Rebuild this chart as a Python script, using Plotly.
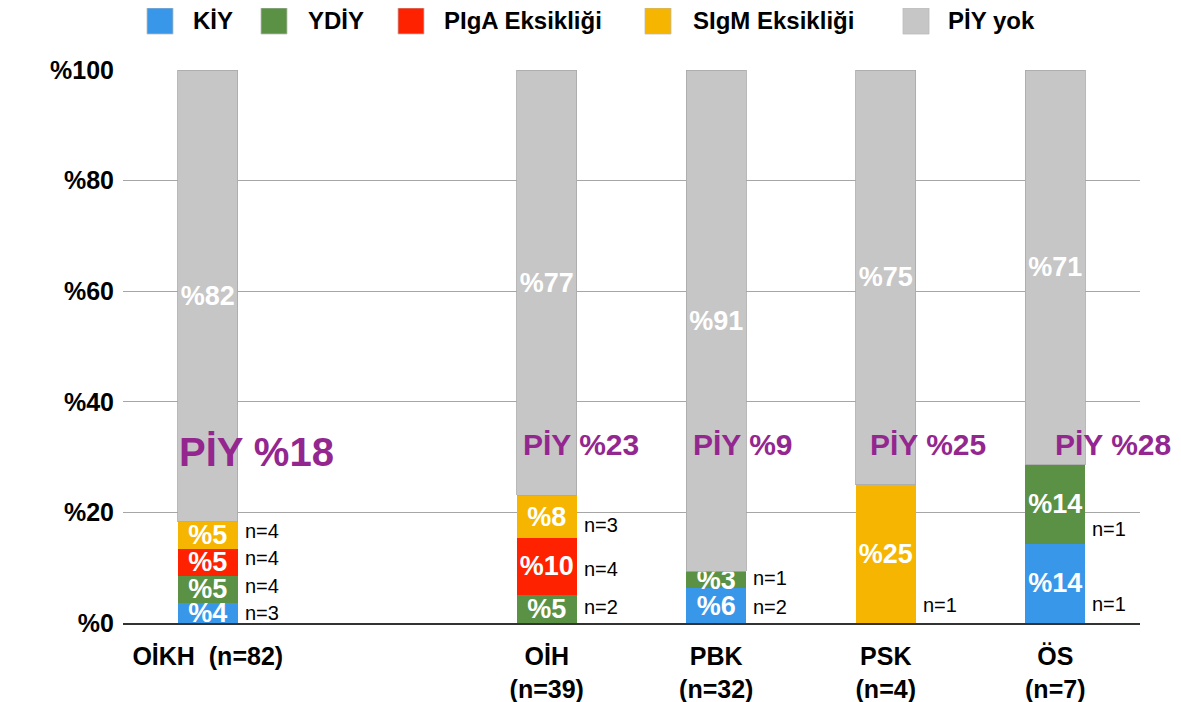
import plotly.graph_objects as go

# ---------------- data ----------------
cat_pos = [0, 2, 3, 4, 5]          # slot 1 is an empty gap
cat_labels = ["OİKH\u00a0\u00a0(n=82)", "OİH<br>(n=39)", "PBK<br>(n=32)", "PSK<br>(n=4)", "ÖS<br>(n=7)"]

series_names = ["KİY", "YDİY", "PIgA Eksikliği", "SIgM Eksikliği", "PİY yok"]
kiy   = [3.66, 0.0, 6.25, 0.0, 14.29]
ydiy  = [4.88, 5.13, 3.13, 0.0, 14.29]
piga  = [4.88, 10.26, 0.0, 0.0, 0.0]
sigm  = [4.88, 7.69, 0.0, 25.0, 0.0]
piyok = [81.70, 76.92, 90.62, 75.0, 71.42]

kiy_txt   = ["%4", "", "%6", "", "%14"]
ydiy_txt  = ["%5", "%5", "%3", "", "%14"]
piga_txt  = ["%5", "%10", "", "", ""]
sigm_txt  = ["%5", "%8", "", "%25", ""]
piyok_txt = ["%82", "%77", "%91", "%75", "%71"]

piy_totals = ["PİY %18", "PİY %23", "PİY %9", "PİY %25", "PİY %28"]

# n counts next to the bars: (x position of the category, text, y in %)
n_labels = [
    (0, "n=3", 1.8), (0, "n=4", 6.7), (0, "n=4", 11.8), (0, "n=4", 16.6),
    (2, "n=2", 2.9), (2, "n=4", 9.8), (2, "n=3", 17.7),
    (3, "n=2", 2.9), (3, "n=1", 8.1),
    (4, "n=1", 3.3),
    (5, "n=1", 3.4), (5, "n=1", 17.0),
]

y_ticks = [0, 20, 40, 60, 80, 100]
y_ticktext = ["%0", "%20", "%40", "%60", "%80", "%100"]

colors = ["#3897E8", "#5B9144", "#FF2200", "#F5B500", "#C6C6C6"]

# ---------------- figure ----------------
FONT = "Liberation Sans, Arial, Helvetica, sans-serif"
values = [kiy, ydiy, piga, sigm, piyok]
texts = [kiy_txt, ydiy_txt, piga_txt, sigm_txt, piyok_txt]
BAR_W = 0.354

fig = go.Figure()
for name, vals, txt, col in zip(series_names, values, texts, colors):
    fig.add_trace(go.Bar(
        x=cat_pos, y=vals, name=name, text=txt,
        marker=dict(color=col, line=dict(width=0.8 if name == "PİY yok" else 0,
                                         color="#A8A8A8")),
        width=BAR_W,
        textposition="inside", insidetextanchor="middle", textangle=0,
        textfont=dict(family=FONT, size=27, color="white", weight="bold"),
        hoverinfo="skip", showlegend=False,
    ))

annotations = []
# PİY totals
piy_x = [0.29, 2.20, 3.16, 4.25, 5.34]
piy_y = [30.9, 32.2, 32.2, 32.2, 32.2]
piy_size = [40, 30, 30, 30, 30]
for xx, yy, t, s in zip(piy_x, piy_y, piy_totals, piy_size):
    annotations.append(dict(x=xx, y=yy, xref="x", yref="y", text=t, showarrow=False,
                            font=dict(family=FONT, size=s, color="#93278F", weight="bold"),
                            xanchor="center", yanchor="middle"))
# n labels
for xc, t, yy in n_labels:
    annotations.append(dict(x=xc + BAR_W / 2, y=yy, xref="x", yref="y", text=t,
                            showarrow=False, xanchor="left", yanchor="middle", xshift=5,
                            font=dict(family=FONT, size=20, color="black")))

# page geometry (the page body has an 8 px margin)
BODY = 8
PL, PR, PT, PB = 123, 1140, 70, 623       # plot area in page pixels
def px2paper_x(px):
    return (px - PL) / (PR - PL)
def py2paper_y(py):
    return (PB - py) / (PB - PT)

# custom legend
legend_sq_x = [147, 261, 398, 645, 903]
legend_tx_x = [191, 306, 442, 691, 946]
legend_y = 21
shapes = []
for name, col, sx, tx in zip(series_names, colors, legend_sq_x, legend_tx_x):
    shapes.append(dict(type="rect", xref="paper", yref="paper",
                       xsizemode="pixel", ysizemode="pixel",
                       xanchor=px2paper_x(sx), yanchor=py2paper_y(legend_y),
                       x0=0, x1=26, y0=-13, y1=13,
                       fillcolor=col, line=dict(color="#BBBBBB", width=0.8)))
    annotations.append(dict(x=px2paper_x(tx), y=py2paper_y(legend_y), xref="paper", yref="paper",
                            text=name, showarrow=False, xanchor="left", yanchor="middle",
                            font=dict(family=FONT, size=24, color="black", weight="bold")))

W, H = 1181 - BODY, 702 - BODY
fig.update_layout(
    barmode="stack",
    width=W, height=H,
    margin=dict(l=PL - BODY, r=1181 - PR, t=PT - BODY, b=702 - PB, pad=0, autoexpand=False),
    plot_bgcolor="white", paper_bgcolor="white",
    annotations=annotations, shapes=shapes,
    uniformtext=dict(minsize=27, mode="show"),
    xaxis=dict(range=[-0.5, 5.5], tickmode="array", tickvals=cat_pos, ticktext=cat_labels,
               showgrid=False, zeroline=False, showline=True, linecolor="#333333", linewidth=2,
               ticks="", ticklabelstandoff=10, automargin=False,
               tickfont=dict(family=FONT, size=25, color="black", weight="bold")),
    yaxis=dict(range=[0, 100], tickmode="array", tickvals=y_ticks, ticktext=y_ticktext,
               showgrid=True, gridcolor="#A6A6A6", gridwidth=1.3, zeroline=False,
               showline=False, ticks="", ticklabelstandoff=8, automargin=False,
               tickfont=dict(family=FONT, size=25, color="black", weight="bold")),
)

fig.write_html("out.html")
